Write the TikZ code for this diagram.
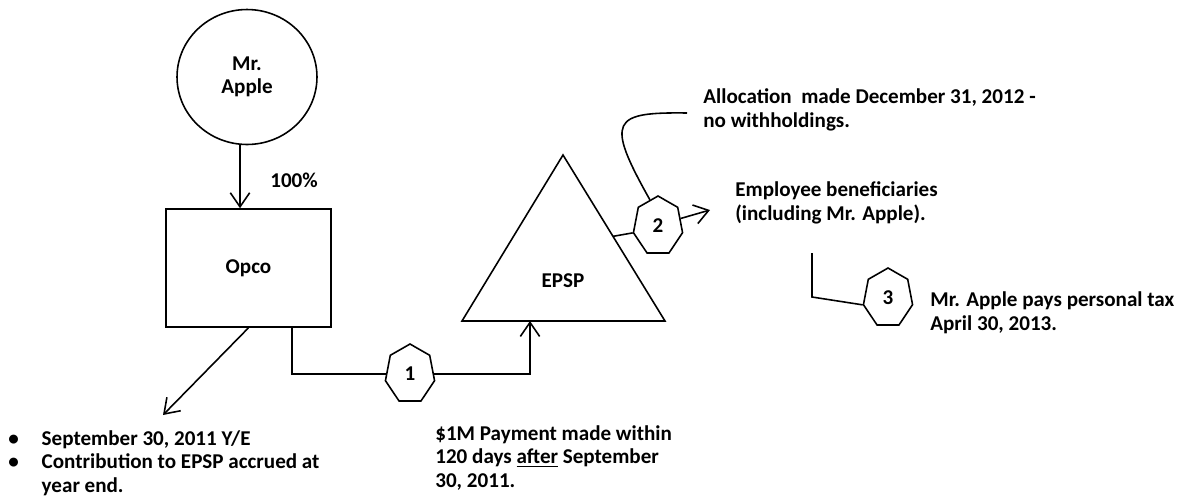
\documentclass[tikz,border=0pt]{standalone}
\usepackage{fontspec}
\setmainfont{Carlito}
\usetikzlibrary{arrows.meta,calc,shapes.geometric}
\newcommand{\lblfont}{\fontsize{12}{13.3}\selectfont\bfseries}
\tikzset{
  every node/.style={font=\lblfont, inner sep=0pt},
  lnk/.style={line width=0.9pt},
  arr/.style={lnk, -{Straight Barb[length=8pt,width=11pt,line width=0.9pt]}},
  hepta/.style={draw, line width=0.9pt, regular polygon, regular polygon sides=7,
    minimum size=1.2cm, xscale=0.84, transform shape},
  txt/.style={anchor=base west, align=left},
}

\begin{document}
\begin{tikzpicture}[x=0.02cm, y=-0.02cm]
  \useasboundingbox (0,0) rectangle (1187,501);
  % owner and company
  \node[draw, line width=0.9pt, ellipse, minimum width=2.8cm, minimum height=2.7cm, align=center] (apple) at (247,77) {Mr.\\Apple};
  \node[draw, line width=0.9pt, minimum width=3.3cm, minimum height=2.36cm] (opco) at (248.5,268) {Opco};
  \coordinate (aS) at ($(apple.south)+(-7,0)$);
  \draw[arr] (aS) -- (aS |- opco.north);
  \node[anchor=base west] (pct) at (270,187) {100\%};
  \coordinate (bl) at (163,415);
  \draw[arr] (opco.south) -- (bl);

  % the plan
  \coordinate (tA) at (563,155);
  \coordinate (tL) at (462,321);
  \coordinate (tR) at (665,321);
  \coordinate (tB) at (530,321);
  \draw[lnk] (tA) -- (tL) -- (tR) -- cycle;
  \node (epsp) at (563,281) {EPSP};

  % steps
  \node[hepta] (h1) at (410,374) {};
  \node (n1) at (h1) {1};
  \node[hepta] (h2) at (658,226) {};
  \node (n2) at (h2) {2};
  \node[hepta] (h3) at (888,298) {};
  \node (n3) at (h3) {3};

  \draw[lnk] ($(opco.south)+(43.5,0)$) |- (h1);
  \draw[arr] (h1) -| (tB);
  \draw[lnk] ($(tA)!0.49!(tR)$) -- (h2.corner 3);
  \coordinate (alc) at (687,113);
  \draw[lnk] ($(h2.corner 1)!0.4!(h2.corner 2)$) .. controls (605,120) and (612,112) .. (alc);
  \coordinate (emp) at (710,210);
  \draw[arr] ($(h2.corner 7)!0.45!(h2.corner 6)$) -- (emp);
  \coordinate (ben) at (812,253);
  \draw[lnk] (ben) -- ++(0,44) -- (h3.corner 3);

  % notes (anchored at the last line)
  \node[txt] (alloc) at (703,127) {Allocation\ \ made December 31, 2012 -\\no withholdings.};
  \node[txt] (benef) at (735,220) {Employee beneficiaries\\(including Mr. Apple).};
  \node[txt] (tax) at (930,330) {Mr. Apple pays personal tax\\April 30, 2013.};
  \node[txt] (pay) at (435,487) {\$1M Payment made within\\120 days \underline{after} September\\30, 2011.};
  \node[txt] (ye) at (8,492) {\makebox[19pt][l]{•}September 30, 2011 Y/E\\\makebox[19pt][l]{•}Contribution to EPSP accrued at\\\hspace*{19pt}year end.};
\end{tikzpicture}
\end{document}
